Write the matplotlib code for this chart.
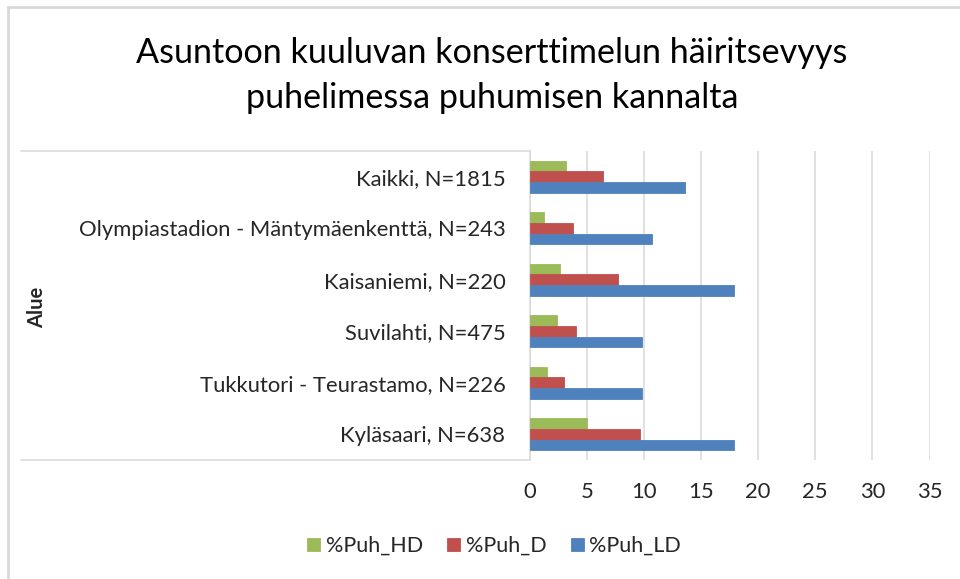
import matplotlib
matplotlib.use("Agg")
import matplotlib.pyplot as plt
from matplotlib.lines import Line2D
import numpy as np

categories = [
    "Kaikki, N=1815",
    "Olympiastadion - Mäntymäenkenttä, N=243",
    "Kaisaniemi, N=220",
    "Suvilahti, N=475",
    "Tukkutori - Teurastamo, N=226",
    "Kyläsaari, N=638",
]
series_names = ["%Puh_HD", "%Puh_D", "%Puh_LD"]
puh_hd = [3.16, 1.25, 2.7, 2.37, 1.49, 5.05]
puh_d = [6.43, 3.83, 7.7, 4.06, 3.04, 9.68]
puh_ld = [13.6, 10.7, 17.9, 9.82, 9.82, 17.9]
x_ticks = [0, 5, 10, 15, 20, 25, 30, 35]
title_lines = ["Asuntoon kuuluvan konserttimelun häiritsevyys",
               "puhelimessa puhumisen kannalta"]
axis_label = "Alue"

colors = ["#9BBB59", "#C0504D", "#4F81BD"]
FONT = ["Lato", "DejaVu Sans"]
TXT = "#262626"
GRID = "#D9D9D9"

W, H = 960, 579
fig = plt.figure(figsize=(W / 100, H / 100), dpi=100)
fig.patch.set_facecolor("white")
renderer = fig.canvas.get_renderer()


def fit_size(text, target_px, **kw):
    t = fig.text(0, 0, text, fontsize=20, family=FONT, **kw)
    w = t.get_window_extent(renderer).width
    t.remove()
    return 20 * target_px / w


def fx(px):
    return px / W


def fy(py):
    return 1 - py / H


# axes
left, right, top, bottom = 529.5, 929.5, 151, 460
ax = fig.add_axes([fx(left), fy(bottom), fx(right) - fx(left), (bottom - top) / H])

y = np.arange(len(categories))
h = 0.204
for vals, off, c, name in zip([puh_hd, puh_d, puh_ld], [-h, 0, h], colors, series_names):
    ax.barh(y + off, vals, height=h, color=c, label=name, zorder=3,
            edgecolor=c, linewidth=0.6)

ax.set_xlim(0, 35)
ax.set_ylim(len(categories) - 0.5, -0.5)
ax.set_xticks(x_ticks)
ax.grid(axis="x", color=GRID, linewidth=1.1, zorder=0)
ax.set_axisbelow(True)
for s in ["top", "right", "bottom"]:
    ax.spines[s].set_visible(False)
ax.spines["left"].set_color(GRID)
ax.spines["left"].set_linewidth(1.1)
ax.spines["left"].set_zorder(1)

lab_size = fit_size(categories[1], 427)
ax.set_yticks(y)
ax.set_yticklabels(categories, family=FONT, fontsize=lab_size, color=TXT)
ax.tick_params(axis="y", length=0, pad=24 * 0.72)
ax.set_xticklabels([str(t) for t in x_ticks], family=FONT, fontsize=lab_size, color=TXT)
ax.tick_params(axis="x", length=0, pad=22 * 0.72)

# category-area lines
for py in [top, bottom]:
    fig.add_artist(Line2D([fx(21), fx(left)], [fy(py), fy(py)], color=GRID, lw=1.1,
                          transform=fig.transFigure))

# chart border
fig.add_artist(Line2D([fx(8), fx(8)], [fy(7), 0], color=GRID, lw=2, transform=fig.transFigure))
fig.add_artist(Line2D([fx(8), 1], [fy(7), fy(7)], color=GRID, lw=2, transform=fig.transFigure))

# title
tsize = fit_size(title_lines[0], 715)
fig.text(fx(492), fy(63), title_lines[0], family=FONT, fontsize=tsize, color="black",
         ha="center", va="baseline")
fig.text(fx(492), fy(108), title_lines[1], family=FONT, fontsize=tsize, color="black",
         ha="center", va="baseline")

# axis label
asize = fit_size(axis_label, 41, fontweight="bold")
fig.text(fx(37), fy(307), axis_label, family=FONT, fontsize=asize, fontweight="bold",
         color=TXT, rotation=90, ha="center", va="center")

# legend
leg_size = fit_size(series_names[0], 97)
handles, labels = ax.get_legend_handles_labels()
em = leg_size / 0.72
leg = fig.legend(handles, labels, ncol=3, loc="center",
                 bbox_to_anchor=(fx(494), fy(546)), frameon=False,
                 prop={"family": FONT, "size": leg_size},
                 handlelength=13 / em, handleheight=13 / em,
                 handletextpad=6 / em, columnspacing=24 / em)
for t in leg.get_texts():
    t.set_color(TXT)

fig.savefig("out.png", dpi=100, facecolor="white")
